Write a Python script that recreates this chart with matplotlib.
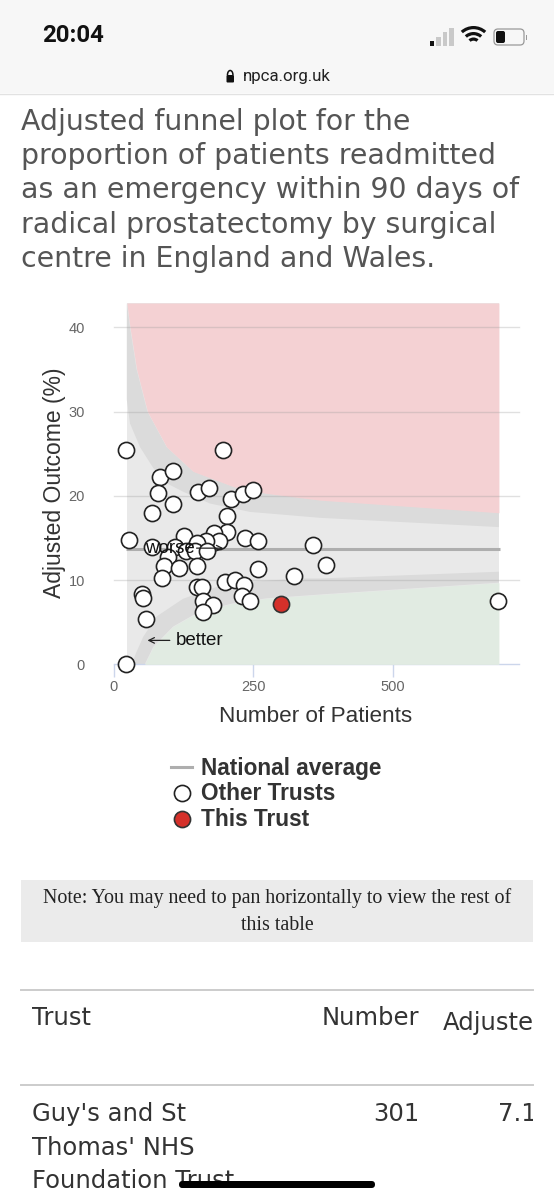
import matplotlib
matplotlib.use("Agg")
import matplotlib.pyplot as plt
from matplotlib.patches import Rectangle, FancyBboxPatch, Wedge, Arc

# trusts
other_n = [21.5, 195, 83, 106, 78, 151, 170, 210, 231, 249, 106, 68, 203, 203, 179, 126, 27, 235, 258,
           188, 165, 148, 68, 109, 129, 145, 167, 96, 90, 117, 149, 86, 258, 323, 199, 217, 233, 148,
           157, 50, 52.5, 229, 243, 159, 178, 159, 57, 21.5, 357, 380, 689]
other_pct = [25.4, 25.4, 22.3, 23.0, 20.3, 20.5, 20.9, 19.6, 20.2, 20.7, 19.0, 18.0, 17.6, 15.75, 15.55,
             15.3, 14.8, 15.0, 14.6, 14.7, 14.7, 14.45, 13.9, 13.9, 13.5, 13.5, 13.5, 12.75, 11.65, 11.4,
             11.7, 10.3, 11.3, 10.5, 9.8, 10.0, 9.45, 9.15, 9.15, 8.35, 7.9, 8.15, 7.5, 7.55, 7.0, 6.2,
             5.4, 0.1, 14.15, 11.8, 7.5]
this_n = [300]
this_pct = [7.2]
national_avg = 13.66
line_n = [22, 692]

# funnel edges
top_n = 42.9
left_n, right_n = 23, 690
upper_outer_n = [23, 28.7, 40.6, 60, 94.4, 142, 214, 273, 369, 690]
upper_outer_y = [42.9, 40, 35, 30, 25.8, 22.9, 21.1, 20.3, 19.5, 18.0]
upper_inner_n = [23, 28.7, 46.6, 70.5, 94.4, 124, 172, 244, 316, 369, 690]
upper_inner_y = [31.4, 28.6, 25.8, 23.3, 21.5, 20.5, 19.1, 18.1, 17.7, 17.4, 16.3]
lower_inner_n = [32, 39.5, 52.6, 76.6, 124, 184, 244, 334, 369, 690]
lower_inner_y = [0, 1.35, 3.3, 5.7, 7.8, 9.2, 9.8, 10.2, 10.2, 11.0]
lower_outer_n = [55, 70.5, 106, 154, 214, 274, 369, 690]
lower_outer_y = [0, 2.1, 4.5, 6.3, 7.25, 7.85, 8.3, 9.7]

y_ticks = [0, 10, 20, 30, 40]
x_ticks = [0, 250, 500]

title_lines = ["Adjusted funnel plot for the",
               "proportion of patients readmitted",
               "as an emergency within 90 days of",
               "radical prostatectomy by surgical",
               "centre in England and Wales."]
note_lines = ["Note: You may need to pan horizontally to view the rest of", "this table"]
trust_lines = ["Guy's and St", "Thomas' NHS", "Foundation Trust"]

PINK = "#f4d1d3"
GREEN = "#e1ebe2"
LIGHT = "#e9e9e9"
DARK = "#dbdbdb"
AXIS = "#ccd6eb"
TEXT = "#333333"
PAGE_FONT = "DejaVu Sans"
CHART_FONT = "Liberation Sans"

fig = plt.figure(figsize=(5.54, 12), dpi=100, facecolor="white")

# whole page axes in pixels, for the phone screenshot around the chart
page = fig.add_axes([0, 0, 1, 1])
page.set_xlim(0, 554)
page.set_ylim(1200, 0)
page.axis("off")

page.add_patch(Rectangle((0, 0), 554, 93, fc="#f7f7f7", ec="none"))
page.plot([0, 554], [94, 94], color="#e2e2e2", lw=1)
page.text(42, 36, "20:04", fontsize=17.3, fontweight="bold", family="Roboto", va="center", color="#111111")
for i, col in enumerate(["#111111", "#c9c9c9", "#c9c9c9", "#c9c9c9"]):
    h = 5 + i * 4.5
    page.add_patch(Rectangle((429.5 + i * 6.5, 46 - h), 4.5, h, fc=col, ec="none"))
# y axis runs downwards here, so the wifi wedges open at 270 degrees
for r in [19, 13, 7.5]:
    page.add_patch(Wedge((473.5, 45), r, 228, 312, width=3.2, fc="#111111", ec="none"))
page.add_patch(FancyBboxPatch((494, 29), 30, 16, boxstyle="round,pad=0,rounding_size=4", fc="none", ec="#999999", lw=0.9))
page.add_patch(FancyBboxPatch((496, 31), 9, 12, boxstyle="round,pad=0,rounding_size=2", fc="#111111", ec="none"))
page.add_patch(Rectangle((526, 34.5), 1, 5, fc="#999999", ec="none"))
page.add_patch(FancyBboxPatch((226.5, 75), 7.5, 7.5, boxstyle="round,pad=0,rounding_size=1", fc="#111111", ec="none"))
page.add_patch(Arc((230.2, 75), 5.5, 9, theta1=180, theta2=360, color="#111111", lw=1.1))
page.text(243, 76, "npca.org.uk", fontsize=12.2, family="Roboto", va="center", color="#222222")

for i, line in enumerate(title_lines):
    page.text(21, 122 + i * 34.2, line, fontsize=20.4, family=PAGE_FONT, va="center", color="#555555")

# chart, with axes placed on the same pixels as the reference
ax = fig.add_axes([114 / 554, 1 - 664.4 / 1200, 405 / 554, 361.4 / 1200])
ax.set_xlim(0, 726)
ax.set_ylim(0, top_n)
ax.patch.set_alpha(0)
for side in ["top", "left", "right"]:
    ax.spines[side].set_visible(False)
ax.spines["bottom"].set_color(AXIS)
ax.spines["bottom"].set_linewidth(1)

ax.fill_between([left_n, right_n], 0, top_n, color=LIGHT, lw=0, zorder=1)
ax.fill_between(upper_outer_n, upper_outer_y, top_n, color=PINK, lw=0, zorder=3)
ax.fill(upper_inner_n + upper_outer_n[::-1] + [left_n],
        upper_inner_y + upper_outer_y[::-1] + [upper_inner_y[0]], color=DARK, lw=0, zorder=2)
ax.fill(lower_inner_n + lower_outer_n[::-1], lower_inner_y + lower_outer_y[::-1], color=DARK, lw=0, zorder=2)
ax.fill_between(lower_outer_n, 0, lower_outer_y, color=GREEN, lw=0, zorder=3)

ax.set_yticks(y_ticks)
ax.set_xticks(x_ticks)
ax.tick_params(axis="y", length=0, pad=21, labelsize=10.5, labelcolor="#666666")
ax.tick_params(axis="x", length=9, width=1, color=AXIS, pad=2.5, labelsize=10.5, labelcolor="#666666")
for v in y_ticks[1:]:
    ax.plot([0, 726], [v, v], color="#999999", alpha=0.3, lw=1, zorder=4, clip_on=False)

ax.plot(line_n, [national_avg, national_avg], color="#aeaeae", lw=2.2, zorder=5, solid_capstyle="butt")
ax.scatter(other_n, other_pct, s=135, fc="white", ec="#222222", lw=1.2, zorder=6, clip_on=False)
ax.scatter(this_n, this_pct, s=135, fc="#d5302a", ec="#333333", lw=1.2, zorder=7, clip_on=False)

ax.text(55.6, 13.8, "worse", fontsize=13.5, va="center", color="#111111", zorder=8)
ax.annotate("", xy=(196, 13.8), xytext=(148, 13.8), zorder=8,
            arrowprops=dict(arrowstyle="->", color="#222222", lw=0.9, shrinkA=0, shrinkB=0))
ax.text(111, 2.85, "better", fontsize=13.5, va="center", color="#111111", zorder=8)
ax.annotate("", xy=(60, 2.85), xytext=(100, 2.85), zorder=8,
            arrowprops=dict(arrowstyle="->", color="#222222", lw=0.9, shrinkA=0, shrinkB=0))

for t in ax.get_xticklabels() + ax.get_yticklabels() + ax.texts:
    t.set_family(CHART_FONT)

page.text(55, 483, "Adjusted Outcome (%)", rotation=90, ha="center", va="center", fontsize=16.5,
          family=CHART_FONT, color=TEXT)
page.text(316, 717, "Number of Patients", ha="center", va="center", fontsize=16.2, family=CHART_FONT, color=TEXT)

# legend
page.plot([171, 192], [767, 767], color="#aeaeae", lw=2.2)
page.scatter([182], [793], s=135, fc="white", ec="#222222", lw=1.2)
page.scatter([182], [819], s=135, fc="#d5302a", ec="#333333", lw=1.2)
for y, label in zip([768, 794, 819.5], ["National average", "Other Trusts", "This Trust"]):
    page.text(201, y, label, fontsize=16.3, fontweight="bold", family=CHART_FONT, va="center", color=TEXT)

# note box and the table under it
page.add_patch(Rectangle((21, 880), 512, 62, fc="#ebebeb", ec="none"))
for y, line in zip([898, 925], note_lines):
    page.text(277, y, line, fontsize=14.4, family="Liberation Serif", ha="center", va="center", color="#222222")

page.plot([21, 533], [989.5, 989.5], color="#cccccc", lw=1.4)
page.plot([21, 533], [1085, 1085], color="#cccccc", lw=1.4)
page.text(32, 1018, "Trust", fontsize=17.5, family=PAGE_FONT, va="center", color="#333333")
page.text(419, 1018, "Number", fontsize=17.5, family=PAGE_FONT, ha="right", va="center", color="#333333")
for y, line in zip([1114, 1148, 1181], trust_lines):
    page.text(32, y, line, fontsize=17.5, family=PAGE_FONT, va="center", color="#333333")
page.text(419, 1114, "301", fontsize=17.5, family=PAGE_FONT, ha="right", va="center", color="#333333")

# these two run off the table's right edge in the screenshot
clip = Rectangle((0, 0), 533, 1200, transform=page.transData)
cut_a = page.text(443, 1023, "Adjusted", fontsize=17.5, family=PAGE_FONT, va="center", color="#333333")
cut_b = page.text(498, 1114, "7.12", fontsize=17.5, family=PAGE_FONT, va="center", color="#333333")
for t in [cut_a, cut_b]:
    t.set_clip_on(True)
    t.set_clip_path(clip)

page.add_patch(FancyBboxPatch((179, 1181), 196, 7, boxstyle="round,pad=0,rounding_size=3.5", fc="black", ec="none", zorder=10))

fig.savefig("out.png", dpi=100)
